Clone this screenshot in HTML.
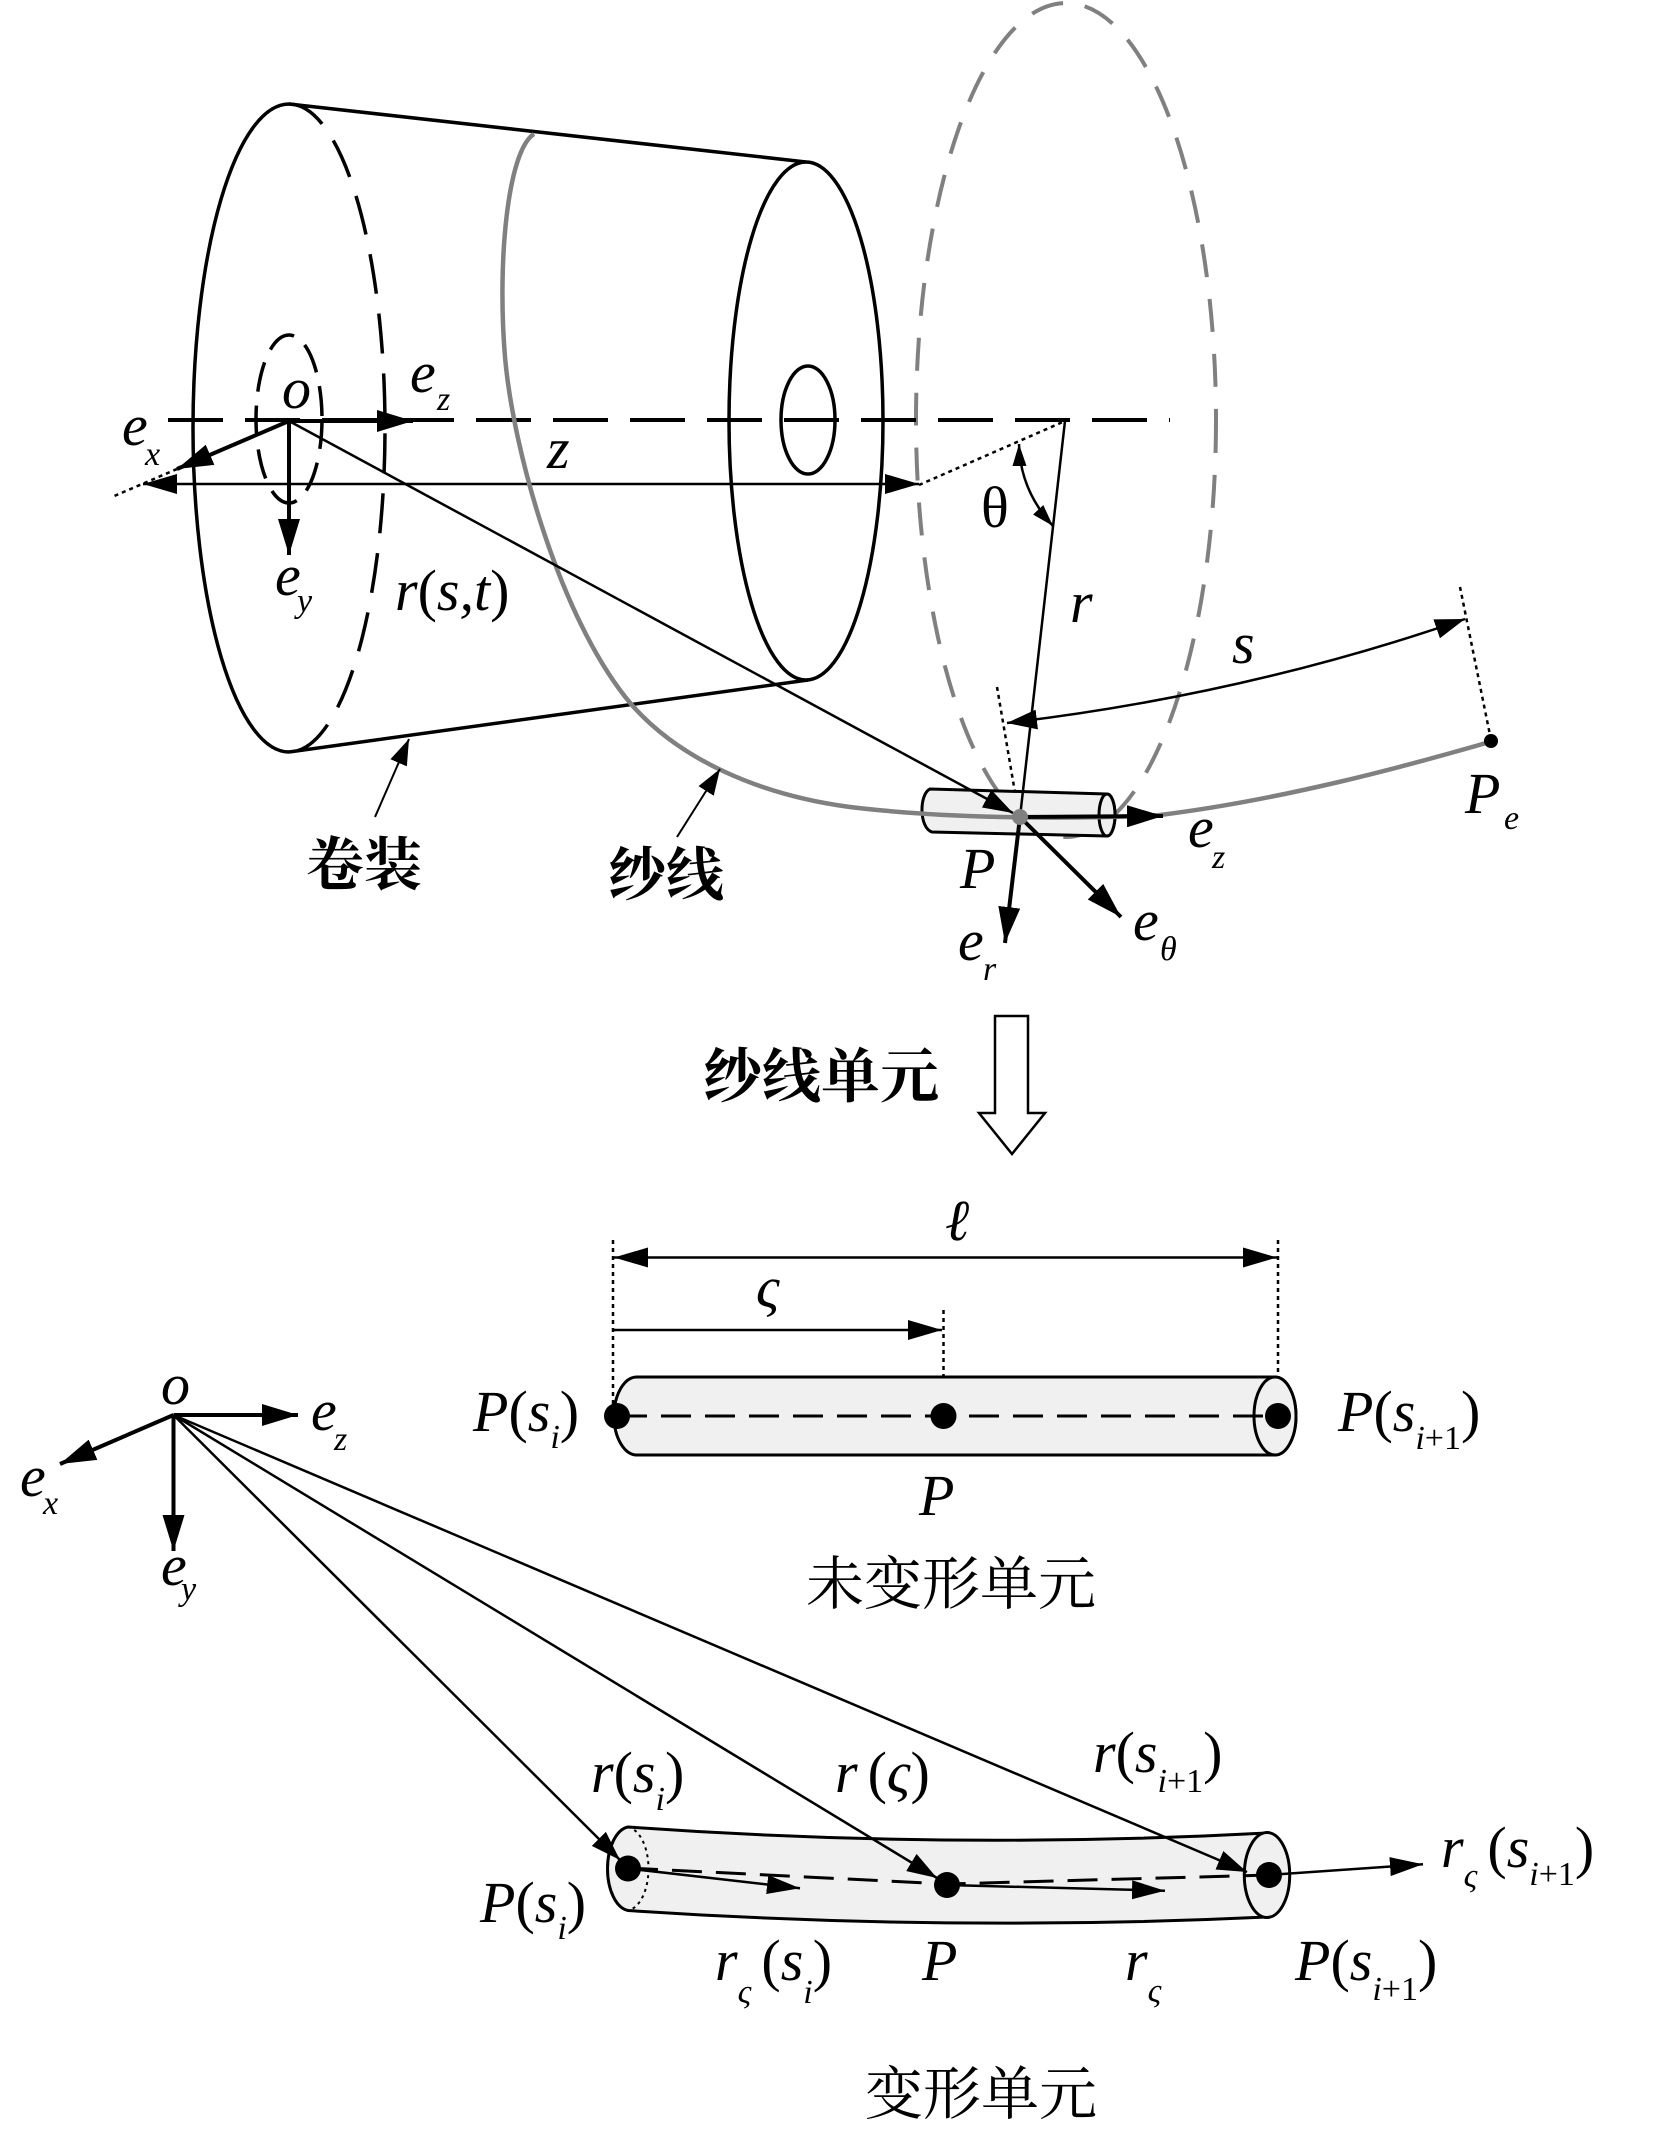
<!DOCTYPE html>
<html><head><meta charset="utf-8"><style>
html,body{margin:0;padding:0;background:#fff}
svg{display:block}
.k{stroke:#000;fill:none}
text{fill:#000}
.m{font-family:"Liberation Serif","Times New Roman",Times,serif;font-style:italic;font-size:58px}
.u{font-style:normal}
.s{font-size:34px}
.c{font-family:"Noto Serif CJK SC","Noto Serif CJK",serif;font-size:58px}
.b{font-weight:bold}
</style></head><body>
<svg width="1654" height="2153" viewBox="0 0 1654 2153" xmlns="http://www.w3.org/2000/svg">
<defs>
<marker id="mA" markerUnits="userSpaceOnUse" markerWidth="36" markerHeight="22" viewBox="0 0 36 22" refX="36" refY="11" orient="auto-start-reverse"><path d="M0,0L36,11L0,22z"/></marker>
<marker id="mB" markerUnits="userSpaceOnUse" markerWidth="34" markerHeight="20" viewBox="0 0 34 20" refX="34" refY="10" orient="auto-start-reverse"><path d="M0,0L34,10L0,20z"/></marker>
<marker id="mC" markerUnits="userSpaceOnUse" markerWidth="30" markerHeight="20" viewBox="0 0 30 20" refX="30" refY="10" orient="auto-start-reverse"><path d="M0,0L30,10L0,20z"/></marker>
<marker id="mD" markerUnits="userSpaceOnUse" markerWidth="22" markerHeight="14" viewBox="0 0 22 14" refX="22" refY="7" orient="auto-start-reverse"><path d="M0,0L22,7L0,14z"/></marker>
<marker id="mE" markerUnits="userSpaceOnUse" markerWidth="33" markerHeight="19" viewBox="0 0 33 19" refX="33" refY="9.5" orient="auto-start-reverse"><path d="M0,0L33,9.5L0,19z"/></marker>
<marker id="mF" markerUnits="userSpaceOnUse" markerWidth="26" markerHeight="18" viewBox="0 0 26 18" refX="26" refY="9" orient="auto-start-reverse"><path d="M0,0L26,9L0,18z"/></marker>
</defs>

<!-- ===== TOP SECTION ===== -->
<ellipse cx="1066" cy="420" rx="150" ry="417" fill="none" stroke="#808080" stroke-width="4" stroke-dasharray="33 22"/>

<g class="k" stroke-width="3.5">
<path d="M289,104 A96,324 0 0 0 289,752"/>
<path d="M289,104 A96,324 0 0 1 289,752" stroke-dasharray="40 20"/>
<line x1="289" y1="104" x2="806" y2="162"/>
<line x1="289" y1="752" x2="808" y2="680"/>
<ellipse cx="806" cy="421" rx="77" ry="259"/>
<ellipse cx="808" cy="420" rx="27" ry="54"/>
<ellipse cx="289" cy="419" rx="33" ry="84" stroke-dasharray="30 14"/>
</g>

<line x1="168" y1="420" x2="1170" y2="420" class="k" stroke-width="4" stroke-dasharray="55 22"/>

<g class="k" stroke-width="2.5" stroke-dasharray="4 4">
<line x1="177" y1="469" x2="112" y2="497"/>
<line x1="919" y1="485" x2="1065" y2="421"/>
<line x1="997" y1="687" x2="1019" y2="816"/>
<line x1="1460" y1="587" x2="1491" y2="740"/>
</g>

<line x1="143" y1="484" x2="919" y2="484" class="k" stroke-width="2.5" marker-start="url(#mB)" marker-end="url(#mB)"/>

<path d="M930,789 L1107,794 A8,21 0 0 1 1107,836 L932,832 C919,828 919,794 930,789 Z" fill="#f0f0f0" stroke="#000" stroke-width="3"/>
<ellipse cx="1107" cy="815" rx="8" ry="21" fill="#f0f0f0" stroke="#000" stroke-width="3"/>

<path d="M534,134 C508,150 497,260 505,357 C513,450 560,620 631,704 C680,760 760,795 850,807 C940,818 1060,820 1160,815 C1280,800 1400,768 1493,741" fill="none" stroke="#808080" stroke-width="4.5"/>

<g class="k" stroke-width="4">
<line x1="289" y1="421" x2="413" y2="421" marker-end="url(#mA)"/>
<line x1="289" y1="421" x2="177" y2="469" marker-end="url(#mA)"/>
<line x1="289" y1="421" x2="289" y2="555" marker-end="url(#mA)"/>
</g>

<line x1="289" y1="421" x2="1013" y2="813" class="k" stroke-width="2.5" marker-end="url(#mC)"/>

<line x1="1065" y1="421" x2="1020" y2="817" class="k" stroke-width="2.5"/>
<g class="k" stroke-width="4">
<line x1="1020" y1="817" x2="1005" y2="943" marker-end="url(#mA)"/>
<line x1="1020" y1="817" x2="1121" y2="917" marker-end="url(#mA)"/>
<line x1="1020" y1="817" x2="1163" y2="816" marker-end="url(#mA)"/>
</g>
<circle cx="1020" cy="817" r="8" fill="#808080"/>

<path d="M1019,444 Q1020,490 1053,526" class="k" stroke-width="2.5" marker-start="url(#mD)" marker-end="url(#mD)"/>
<path d="M1007,723 Q1245,695 1465,619" class="k" stroke-width="2.5" marker-start="url(#mC)" marker-end="url(#mC)"/>

<circle cx="1491" cy="741" r="7" fill="#000"/>

<line x1="375" y1="817" x2="409" y2="739" class="k" stroke-width="2" marker-end="url(#mF)"/>
<line x1="677" y1="837" x2="720" y2="769" class="k" stroke-width="2" marker-end="url(#mF)"/>

<text class="m" x="282" y="408">o</text>
<text class="m" x="410" y="392">e</text><text class="m s" x="437" y="410">z</text>
<text class="m" x="122" y="445">e</text><text class="m s" x="145" y="465">x</text>
<text class="m" x="275" y="595">e</text><text class="m s" x="297" y="612">y</text>
<text class="m" x="547" y="468">z</text>
<text class="m" x="395" y="610">r<tspan class="u">(</tspan>s,t<tspan class="u">)</tspan></text>
<text class="m u" x="981" y="527">θ</text>
<text class="m" x="1070" y="622">r</text>
<text class="m" x="1232" y="663">s</text>
<text class="m" x="1465" y="813">P</text><text class="m s" x="1504" y="829">e</text>
<text class="m" x="960" y="888">P</text>
<text class="m" x="1188" y="847">e</text><text class="m s" x="1212" y="868">z</text>
<text class="m" x="1133" y="940">e</text><text class="m s" x="1160" y="960">θ</text>
<text class="m" x="958" y="960">e</text><text class="m s" x="983" y="980">r</text>

<text class="c b" x="306" y="885">卷装</text>
<text class="c b" x="608" y="895">纱线</text>

<!-- ===== MIDDLE ===== -->
<text class="c b" x="703" y="1097" style="font-size:59px">纱线单元</text>
<polygon points="995,1016 1028,1016 1028,1113 1045,1113 1012,1154 979,1113 995,1113" fill="#fff" stroke="#000" stroke-width="2.5"/>

<!-- ===== UNDEFORMED ELEMENT ===== -->
<g class="k" stroke-width="2.5" stroke-dasharray="4 4">
<line x1="613" y1="1240" x2="613" y2="1416"/>
<line x1="1278" y1="1240" x2="1278" y2="1416"/>
<line x1="943.5" y1="1310" x2="943.5" y2="1416"/>
</g>
<line x1="614" y1="1257.5" x2="1277" y2="1257.5" class="k" stroke-width="2.5" marker-start="url(#mB)" marker-end="url(#mB)"/>
<line x1="613" y1="1330" x2="942" y2="1330" class="k" stroke-width="2.5" marker-end="url(#mB)"/>
<text class="m" x="945" y="1240">ℓ</text>
<text class="m" x="756" y="1307">ς</text>

<path d="M637,1377 L1275,1377 A21,39 0 0 1 1275,1455 L637,1455 A23,39 0 0 1 637,1377 Z" fill="#f0f0f0" stroke="#000" stroke-width="3"/>
<ellipse cx="1275" cy="1416" rx="21" ry="39" fill="#f0f0f0" stroke="#000" stroke-width="3"/>
<line x1="617" y1="1416" x2="1278" y2="1416" class="k" stroke-width="3" stroke-dasharray="30 14"/>
<circle cx="617" cy="1416" r="13"/>
<circle cx="943.5" cy="1416" r="13"/>
<circle cx="1278" cy="1416" r="13"/>

<text class="m" x="473" y="1431">P<tspan class="u">(</tspan>s<tspan class="s" dy="17">i</tspan><tspan class="u" dy="-17">)</tspan></text>
<text class="m" x="1338" y="1431">P<tspan class="u">(</tspan>s<tspan class="s" dy="18">i<tspan class="u">+1</tspan></tspan><tspan class="u" dy="-18">)</tspan></text>
<text class="m" x="919" y="1515">P</text>
<text class="c" x="806" y="1604">未变形单元</text>

<!-- ===== LOWER AXES ===== -->
<g class="k" stroke-width="4">
<line x1="173.5" y1="1415" x2="298" y2="1415" marker-end="url(#mA)"/>
<line x1="173.5" y1="1415" x2="60" y2="1464" marker-end="url(#mA)"/>
<line x1="173.5" y1="1415" x2="173.5" y2="1551" marker-end="url(#mA)"/>
</g>
<text class="m" x="161" y="1404">o</text>
<text class="m" x="311" y="1430">e</text><text class="m s" x="334" y="1450">z</text>
<text class="m" x="20" y="1496">e</text><text class="m s" x="43" y="1514">x</text>
<text class="m" x="161" y="1585">e</text><text class="m s" x="181" y="1600">y</text>

<!-- ===== DEFORMED ELEMENT ===== -->
<path d="M628,1827 Q950,1850 1267,1833 A22.7,42.5 0 0 1 1267,1917 Q950,1932 628,1910.5 A23,42 0 0 1 628,1827 Z" fill="#f0f0f0" stroke="#000" stroke-width="3"/>
<path d="M628,1827 A23,42 0 0 1 628,1910.5" class="k" stroke-width="2" stroke-dasharray="3 4"/>
<ellipse cx="1267" cy="1875" rx="22.7" ry="42.5" fill="#f0f0f0" stroke="#000" stroke-width="3"/>
<polyline points="628,1868 947,1884 1269,1875" class="k" stroke-width="3" stroke-dasharray="30 14"/>

<g class="k" stroke-width="2.5">
<line x1="173.5" y1="1415" x2="620" y2="1860" marker-end="url(#mC)"/>
<line x1="173.5" y1="1415" x2="937" y2="1878" marker-end="url(#mC)"/>
<line x1="173.5" y1="1415" x2="1247" y2="1872" marker-end="url(#mC)"/>
<line x1="628" y1="1868.5" x2="800" y2="1888.3" marker-end="url(#mE)"/>
<line x1="947" y1="1885" x2="1165" y2="1890.7" marker-end="url(#mE)"/>
<line x1="1269" y1="1875" x2="1423" y2="1864.3" marker-end="url(#mE)"/>
</g>
<circle cx="628" cy="1868.5" r="13"/>
<circle cx="947" cy="1885" r="13"/>
<circle cx="1269" cy="1875" r="13"/>

<text class="m" x="591" y="1792">r<tspan class="u">(</tspan>s<tspan class="s" dy="18">i</tspan><tspan class="u" dy="-18">)</tspan></text>
<text class="m" x="835" y="1792">r<tspan class="u" dx="10">(</tspan>ς<tspan class="u">)</tspan></text>
<text class="m" x="1093" y="1772">r<tspan class="u">(</tspan>s<tspan class="s" dy="20">i<tspan class="u">+1</tspan></tspan><tspan class="u" dy="-20">)</tspan></text>
<text class="m" x="480" y="1922">P<tspan class="u">(</tspan>s<tspan class="s" dy="17">i</tspan><tspan class="u" dy="-17">)</tspan></text>
<text class="m" x="715" y="1980">r<tspan class="s" dy="23">ς</tspan><tspan class="u" dx="10" dy="-23">(</tspan>s<tspan class="s" dy="23">i</tspan><tspan class="u" dy="-23">)</tspan></text>
<text class="m" x="922" y="1980">P</text>
<text class="m" x="1125" y="1980">r<tspan class="s" dy="22">ς</tspan></text>
<text class="m" x="1295" y="1980">P<tspan class="u">(</tspan>s<tspan class="s" dy="20">i<tspan class="u">+1</tspan></tspan><tspan class="u" dy="-20">)</tspan></text>
<text class="m" x="1441" y="1867">r<tspan class="s" dy="20">ς</tspan><tspan class="u" dx="10" dy="-20">(</tspan>s<tspan class="s" dy="18">i<tspan class="u">+1</tspan></tspan><tspan class="u" dy="-18">)</tspan></text>

<text class="c" x="865" y="2114">变形单元</text>
</svg>
</body></html>
